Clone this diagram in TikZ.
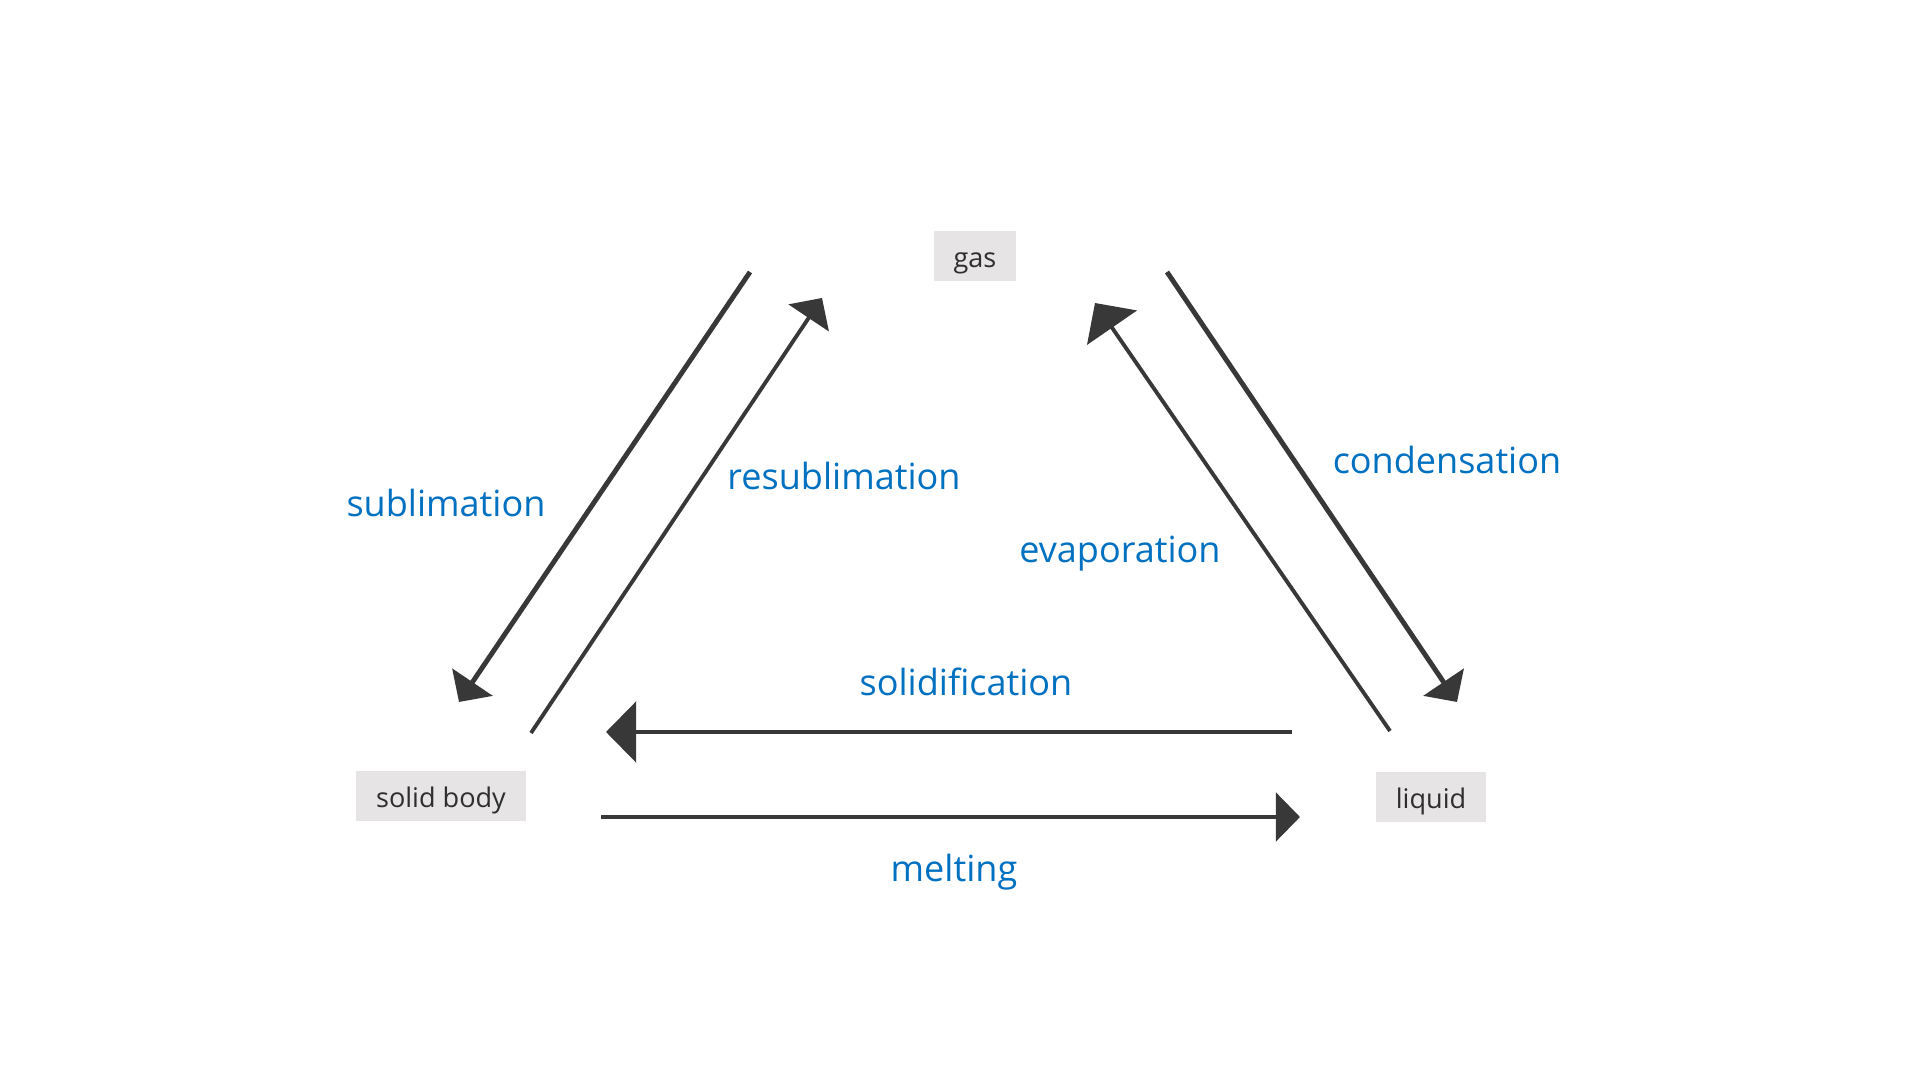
\documentclass[tikz,border=0pt]{standalone}
\usepackage{fontspec}
\setmainfont{Open Sans}
\usepackage{tikz}
\usetikzlibrary{arrows.meta}
\definecolor{ink}{HTML}{383838}
\definecolor{boxtext}{HTML}{2E2E2E}
\definecolor{boxfill}{HTML}{E6E4E4}
\definecolor{phase}{HTML}{0070C0}
\tikzset{
  state/.style  = {rectangle, fill=boxfill, text=boxtext, font=\fontsize{7.7}{9}\selectfont,
                   minimum height=0.49cm, inner xsep=0.2cm, text height=6.8pt, text depth=0pt},
  trans/.style  = {text=phase, font=\fontsize{10.25}{12}\selectfont, text depth=0pt},
  bold/.style   = {-{Triangle[length=0.24cm,width=0.48cm]}, draw=ink, line width=1.4pt},
  slim/.style   = {-{Triangle[length=0.24cm,width=0.48cm]}, draw=ink, line width=1.1pt},
  wide/.style   = {-{Triangle[length=0.3cm,width=0.6cm]}, draw=ink, line width=1.1pt},
}

\begin{document}
\begin{tikzpicture}[x=0.01cm, y=-0.01cm]

  \useasboundingbox (0,0) rectangle (1920,1080);

  \node[state] (gas) at (975,256) {gas};
  \node[state] (solid) at (441,796) {solid body};
  \node[state] (liquid) at (1431,797) {liquid};

  \coordinate (sub-a) at (750,272);
  \coordinate (sub-b) at (459,702);
  \coordinate (res-a) at (531,733);
  \coordinate (res-b) at (822,298);
  \coordinate (con-a) at (1167,272);
  \coordinate (con-b) at (1457,702);
  \coordinate (eva-a) at (1390,731);
  \coordinate (eva-b) at (1095,303);
  \coordinate (sol-a) at (1292,732);
  \coordinate (sol-b) at (606,732);
  \coordinate (mel-a) at (601,817);
  \coordinate (mel-b) at (1300,817);

  \draw[bold] (sub-a) -- (sub-b);
  \draw[slim] (res-a) -- (res-b);
  \draw[bold] (con-a) -- (con-b);
  \draw[wide] (eva-a) -- (eva-b);
  \draw[wide, line width=1.4pt] (sol-a) -- (sol-b);
  \draw[bold] (mel-a) -- (mel-b);

  \node[trans] (sublabel) at (446,503) {sublimation};
  \node[trans] (reslabel) at (844,476) {resublimation};
  \node[trans] (conlabel) at (1447,460) {condensation};
  \node[trans] (evalabel) at (1120,549) {evaporation};
  \node[trans] (sollabel) at (966,682) {solidification};
  \node[trans] (mellabel) at (954,868) {melting};

\end{tikzpicture}
\end{document}
